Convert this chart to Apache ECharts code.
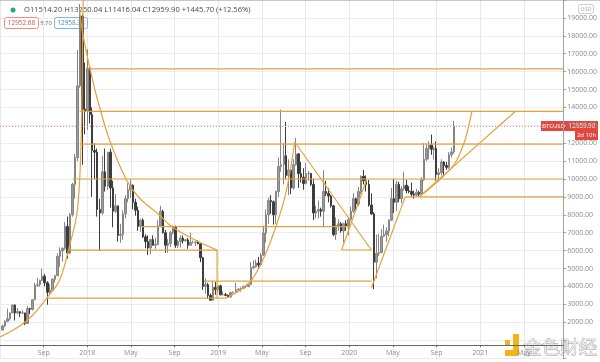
<!DOCTYPE html>
<html><head><meta charset="utf-8">
<script src="https://cdn.jsdelivr.net/npm/echarts@6/dist/echarts.min.js"></script>
<style>html,body{margin:0;padding:0;background:#fff}#c{width:600px;height:362px}</style>
</head><body><div id="c"></div><script>
// ---- weekly BTCUSD bars, first bar = week of Mon 8 May 2017 ----
const firstWeek = '2017-05-08';
const opens = [1560,1790,2050,2190,2520,2960,2520,2590,2510,2520,1930,2760,2720,3250,4060,4090,4340,4570,4200,3680,3780,4400,4600,5680,5990,6130,7350,5860,8000,9700,11200,15200,19100,13900,
13800,16200,13600,11600,11500,8300,8100,10400,9600,11500,9500,8200,8500,6850,6900,8050,8900,9400,9650,8700,8250,7350,7700,6770,6500,6150,6620,6300,6350,7400,8200,7000,6300,6400,7000,7300,6300,6500,6700,6550,6600,6300,6460,6460,6480,6380,5600,4000,4100,3500,3230,3950,
3820,4030,3530,3540,3500,3410,3650,3670,3800,3850,3900,4000,4000,4100,5050,5100,5300,5200,5750,6980,8000,8800,8730,8000,9300,10700,10800,11300,10200,10500,9500,10800,11400,10300,10100,9750,10300,10300,9700,8100,8200,8300,8200,9300,9200,9050,8500,6900,7400,7500,7100,7500,
7400,7750,8200,8900,8600,9300,10150,9900,9700,8550,8050,5350,5850,5900,6800,6900,7100,7700,8900,8700,9700,8900,9450,9650,9350,9300,9150,9100,9250,9150,9950,11100,11700,11900,11650,11700,10250,10350,10950,10750,10650,11350,11514.2];
const highs = [1860,2110,2760,2560,2980,2990,2790,2610,2660,2530,2900,2810,3280,4200,4480,4380,4980,4700,4290,4130,4450,4650,5850,6180,6170,7600,7900,8100,9790,11400,17200,19780,19200,16500,
17250,16300,14000,12000,11700,8900,11300,11700,11500,11700,9900,9150,8500,7500,8250,9100,9760,9970,9700,8900,8450,7750,7800,6900,6850,6500,6850,6720,7700,8500,8280,7150,6650,7100,7400,7400,6600,6850,6850,6650,6700,7000,6560,6500,6580,6450,5650,4450,4200,3600,4300,4250,
4050,4100,3720,3640,3550,3700,3720,4200,3900,3950,4050,4050,4150,5350,5450,5500,5650,5850,7400,8300,8950,9100,8800,9350,11200,13880,12000,13200,11100,10600,11100,12300,11450,10950,10600,10900,10450,10350,10000,8500,8800,8400,10500,9900,9500,9100,8550,7850,7750,7600,7550,7700,
7800,8450,9200,8950,9550,10200,10500,10200,9950,9200,8150,6900,6950,7200,7450,7300,7750,9500,10000,9900,9850,9600,10400,9950,9600,9800,9350,9450,9350,10100,12000,11900,12100,12480,11800,12100,10600,11100,11000,10950,11500,11750,13250.04];
const lows = [1550,1720,2000,2100,2500,2100,2450,2280,2470,1840,1920,2450,2650,3240,3960,3980,4300,4000,2970,3520,3750,4210,4570,5100,5380,6030,5550,5800,7900,8900,11000,15100,10800,12500,
12750,13100,9000,10000,7900,6000,8000,9300,9400,8400,7300,8100,6500,6430,6600,7800,8700,8950,8300,7950,7100,7050,6700,6130,5750,5800,6280,6100,6300,7400,6950,5880,5880,6200,6900,6150,6150,6170,6400,6500,6100,6300,6400,6250,6350,5350,3800,3600,3300,3200,3200,3530,
3650,3500,3500,3450,3380,3350,3600,3650,3750,3700,3850,3900,3950,4090,4950,5050,5050,5150,5700,6450,7500,8050,7450,7500,9000,10400,9700,10000,9100,9150,9400,10750,9500,9800,9400,9700,9900,9600,7700,7800,7800,7900,7300,9050,8700,8400,6800,6600,7100,7000,6450,7100,
6850,7700,8100,8250,8500,9150,9700,9300,8450,8000,3850,4450,5700,5850,6750,6500,6800,7650,8100,8200,8700,8650,9350,9200,9200,9000,8900,9050,9050,9150,9900,11000,11100,11350,11100,9900,9850,10200,10150,10500,10550,11200,11416.04];
const closes = [1790,2050,2190,2520,2960,2520,2590,2510,2520,1930,2760,2720,3250,4060,4090,4340,4570,4200,3680,3780,4400,4600,5680,5990,6130,7350,5860,8000,9700,11200,15200,19100,13900,13800,
16200,13600,11600,11500,8300,8100,10400,9600,11500,9500,8200,8500,6850,6900,8050,8900,9400,9650,8700,8250,7350,7700,6770,6500,6150,6620,6300,6350,7400,8200,7000,6300,6400,7000,7300,6300,6500,6700,6550,6600,6300,6460,6460,6480,6380,5600,4000,4100,3500,3230,3950,3820,
4030,3530,3540,3500,3410,3650,3670,3800,3850,3900,4000,4000,4100,5050,5100,5300,5200,5750,6980,8000,8800,8730,8000,9300,10700,10800,11300,10200,10500,9500,10800,11400,10300,10100,9750,10300,10300,9700,8100,8200,8300,8200,9300,9200,9050,8500,6900,7400,7500,7100,7500,7400,
7750,8200,8900,8600,9300,10150,9900,9700,8550,8050,5350,5850,5900,6800,6900,7100,7700,8900,8700,9700,8900,9450,9650,9350,9300,9150,9100,9250,9150,9950,11100,11700,11900,11650,11700,10250,10350,10950,10750,10650,11350,11514.2,12959.9];

// ---- axis settings ----
const priceMin = 0, priceMax = 20000, priceStep = 1000;
const monthMin = 4, monthMax = 55.6, monthStep = 4;   // months counted from Jan 2017
const monthLabels = {0: null, 4: 'May', 8: 'Sep'};

// ---- hand-drawn annotation lines, points as [month index, price] ----
const levels = [   // [price, fromMonth, toMonth]
  [16150, 12.12, 55.6],
  [13780, 11.30, 55.6],
  [11950, 11.30, 55.6],
  [10000, 10.66, 55.6],
  [9000, 41.13, 55.6],
  [7340, 16.96, 36.12],
  [6030, 10.39, 23.89],
  [6034, 35.30, 38.03],
  [4300, 22.70, 38.03],
  [3350, 8.29, 24.80]
];
const segments = [
  [[23.89, 6030], [23.89, 3350]],
  [[31.01, 12068], [38.03, 6034]],
  [[35.30, 6034], [37.58, 9945]],
  [[38.03, 3911], [41.13, 9000]],
  [[42.41, 9000], [51.26, 13800]]
];
const arcRise2017 = [[4.0,1173],[5.82,1788],[7.01,2402],[8.29,3352],[9.47,4358],[10.39,6313],[11.03,7989],[11.30,9945],[11.48,13297],[11.57,17767],[11.62,20000]];
const arcFall2018 = [[11.30,19443],[11.57,18158],[12.21,16258],[12.94,14414],[14.04,12180],[15.59,9945],[16.77,8939],[18.60,7989],[19.78,7319],[22.25,6481],[23.89,6034]];
const arcRise2019 = [[24.80,3352],[26.81,4190],[28.00,5364],[29.27,7319],[30.19,9219],[31.01,12068]];
const arcRise2020 = [[42.41,9000],[44.15,9889],[45.70,10895],[46.61,12180],[47.07,13297],[47.25,13800]];

const lastClose = 12959.9;

// ---- build ----
function monthIndex(d){
  const y=d.getUTCFullYear(), m=d.getUTCMonth(), day=d.getUTCDate();
  const dim = new Date(Date.UTC(y,m+1,0)).getUTCDate();
  return (y-2017)*12 + m + (day-1)/dim;
}
const t0 = Date.parse(firstWeek+'T00:00:00Z');
const candles = closes.map((c,i)=>[monthIndex(new Date(t0 + i*7*86400000)), opens[i], c, lows[i], highs[i]]);

const ORANGE = '#e6a13b';
const lineSeries = [];
levels.forEach(l=>lineSeries.push({type:'line', data:[[l[1],l[0]],[l[2],l[0]]]}));
segments.forEach(s=>lineSeries.push({type:'line', data:s}));
[arcRise2017, arcFall2018, arcRise2019, arcRise2020].forEach(a=>lineSeries.push({type:'line', data:a, smooth:0.35}));
lineSeries.forEach(s=>{ Object.assign(s,{showSymbol:false, symbol:'none', silent:true, z:3, animation:false, sampling:null, lineStyle:{color:ORANGE, width:1.2}}); });

const chart = echarts.init(document.getElementById('c'), null, {renderer:'canvas'});
const txt = '#8c8c8c';
chart.setOption({
  animation:false,
  backgroundColor:'#fff',
  grid:{left:0, right:34, top:0, bottom:4, containLabel:false},
  xAxis:{type:'value', min:monthMin, max:monthMax, interval:monthStep, offset:-13,
    axisLine:{onZero:false, lineStyle:{color:'#666', width:1}},
    axisTick:{show:true, length:2, lineStyle:{color:'#666'}},
    axisLabel:{fontSize:7, color:txt, margin:4, showMinLabel:false, showMaxLabel:false, fontFamily:'Open Sans',
      formatter:v=>{const r=((v%12)+12)%12; if(r===0) return String(2017+v/12); return monthLabels[r]||'';}},
    splitLine:{show:true, lineStyle:{color:'#e9e9e9', width:1}}},
  yAxis:{type:'value', position:'right', min:priceMin, max:priceMax, interval:priceStep,
    axisLine:{show:true, lineStyle:{color:'#a0a0a0', width:1}},
    axisTick:{show:true, length:3, lineStyle:{color:'#a0a0a0'}},
    axisLabel:{fontSize:7, color:txt, margin:4, fontFamily:'Open Sans',
      formatter:v=>(v>=2000&&v<=19000)?v.toFixed(2):''},
    splitLine:{show:true, lineStyle:{color:'#ececec', width:1}}},
  series:[{type:'candlestick', data:candles, encode:{x:0,y:[1,2,3,4]}, barWidth:2, z:2,
    itemStyle:{color:'#9a9a9a', color0:'#3d3d3d', borderColor:'#858585', borderColor0:'#3d3d3d', borderWidth:1},
    markLine:{silent:true, symbol:'none', animation:false, label:{show:false},
      lineStyle:{color:'#e98a92', type:[1,2], width:1}, data:[{yAxis:lastClose}]}
  }].concat(lineSeries)
});

const yPx = chart.convertToPixel({yAxisIndex:0}, lastClose);
const RED = '#e2473f';
chart.setOption({graphic:[
  {type:'line', shape:{x1:0,y1:0.5,x2:600,y2:0.5}, style:{stroke:'#c8c8c8', lineWidth:1}},
  {type:'circle', shape:{cx:13, cy:10, r:2.5}, style:{fill:'#2aa58a'}},
  {type:'text', left:24, top:5.5, style:{text:'O11514.20 H13250.04 L11416.04 C12959.90 +1445.70 (+12.56%)', fill:'#4a4a4a', fontSize:7.6, fontFamily:'Open Sans'}},
  {type:'rect', shape:{x:4.5,y:17.5,width:34,height:11,r:2}, style:{fill:'#fff', stroke:'#e5928e', lineWidth:1}},
  {type:'text', x:21.5, y:23, style:{text:'12952.68', fill:'#d9534f', fontSize:6.4, align:'center', verticalAlign:'middle', fontFamily:'Open Sans'}},
  {type:'text', x:46, y:23, style:{text:'5.70', fill:'#666', fontSize:5.8, align:'center', verticalAlign:'middle', fontFamily:'Open Sans'}},
  {type:'rect', shape:{x:54.5,y:17.5,width:33,height:11,r:2}, style:{fill:'#fff', stroke:'#7fb6dc', lineWidth:1}},
  {type:'text', x:71, y:23, style:{text:'12958.38', fill:'#3a8cc4', fontSize:6.4, align:'center', verticalAlign:'middle', fontFamily:'Open Sans'}},
  {type:'rect', shape:{x:578.5,y:4.5,width:15,height:9,r:2}, style:{fill:'#fff', stroke:'#ccc', lineWidth:1}},
  {type:'text', x:586, y:9, style:{text:'USD', fill:'#aaa', fontSize:5.5, align:'center', verticalAlign:'middle', fontFamily:'Open Sans'}},
  {type:'rect', shape:{x:541,y:yPx-5,width:25,height:10}, style:{fill:RED}},
  {type:'text', x:553.5, y:yPx, style:{text:'BTCUSD', fill:'#fff', fontSize:6, align:'center', verticalAlign:'middle', fontFamily:'Open Sans'}},
  {type:'rect', shape:{x:566,y:yPx-5,width:32,height:10}, style:{fill:RED}},
  {type:'text', x:582, y:yPx, style:{text:'12959.90', fill:'#fff', fontSize:6.2, align:'center', verticalAlign:'middle', fontFamily:'Open Sans'}},
  {type:'rect', shape:{x:575,y:yPx+5,width:23,height:9}, style:{fill:RED}},
  {type:'text', x:586.5, y:yPx+9.5, style:{text:'2d 10h', fill:'#fff', fontSize:6, align:'center', verticalAlign:'middle', fontFamily:'Open Sans'}},
  // watermark
  {type:'rect', shape:{x:513,y:334,width:6,height:22}, style:{fill:'#f4b21c'}},
  {type:'rect', shape:{x:505,y:350,width:14,height:6}, style:{fill:'#f4b21c'}},
  {type:'rect', shape:{x:505,y:340,width:5,height:6}, style:{fill:'#f4b21c'}},
  {type:'text', left:523, top:337, style:{text:'金色财经', fill:'rgba(235,235,235,0.9)', stroke:'#9a9a9a', lineWidth:0.7, fontSize:18.5, fontFamily:'Noto Sans CJK SC'}}
]});
</script></body></html>
